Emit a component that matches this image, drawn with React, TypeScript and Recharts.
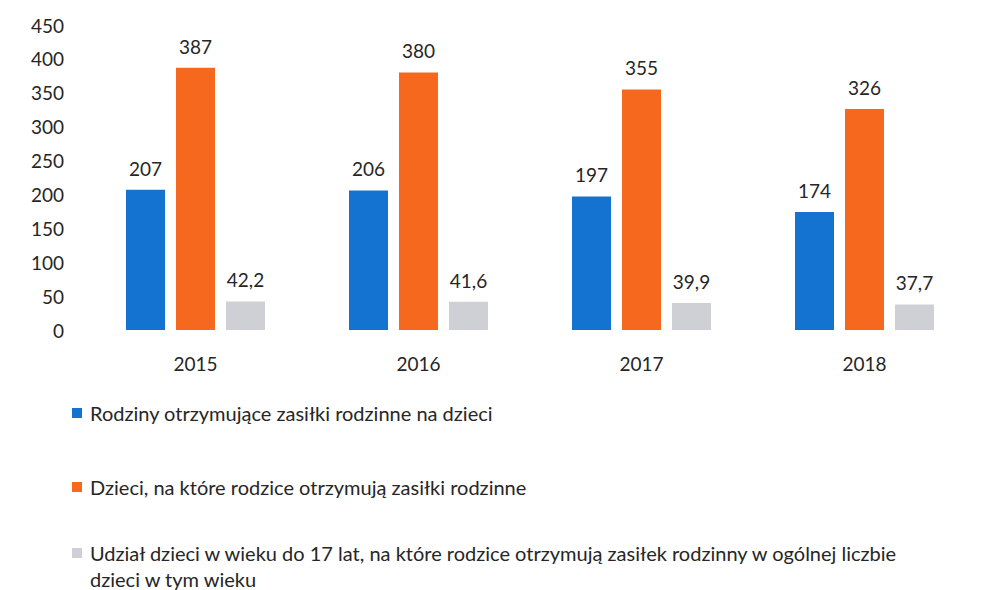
import { BarChart, Bar, XAxis, YAxis, LabelList } from "recharts";

const years = ["2015", "2016", "2017", "2018"];
const families = [207, 206, 197, 174];
const children = [387, 380, 355, 326];
const sharePct = [42.2, 41.6, 39.9, 37.7];
const yTicks = [0, 50, 100, 150, 200, 250, 300, 350, 400, 450];

const seriesNames = [
  "Rodziny otrzymujące zasiłki rodzinne na dzieci",
  "Dzieci, na które rodzice otrzymują zasiłki rodzinne",
  "Udział dzieci w wieku do 17 lat, na które rodzice otrzymują zasiłek rodzinny w ogólnej liczbie dzieci w tym wieku",
];
const colors = ["#1473d0", "#f7681f", "#cfcfd6"];

const FONT = "Lato, 'Open Sans', sans-serif";

const data = years.map((y, i) => ({
  year: y,
  families: families[i],
  children: children[i],
  share: sharePct[i],
}));

const fmt = (v: any) => String(v).replace(".", ",");

function YTick(props: any) {
  const { x, y, payload } = props;
  return (
    <text x={x - 12} y={y} textAnchor="end" dominantBaseline="central" fontSize={19} fill="#262626" fontFamily={FONT}>
      {payload.value}
    </text>
  );
}

function XTick(props: any) {
  const { x, y, payload } = props;
  return (
    <text x={x} y={y + 25} textAnchor="middle" dominantBaseline="central" fontSize={19} fill="#262626" fontFamily={FONT}>
      {payload.value}
    </text>
  );
}

export default function App() {
  const keys = ["families", "children", "share"];
  return (
    <div style={{ position: "absolute", left: 0, top: 0, width: 1006, height: 590, background: "#fff", overflow: "hidden", fontFamily: FONT }}>
      <BarChart
        width={1006}
        height={380}
        data={data}
        margin={{ top: 25, right: 30, left: 0, bottom: 0 }}
        barSize={39}
        barGap={11}
      >
        <XAxis dataKey="year" axisLine={false} tickLine={false} height={50} tick={<XTick />} interval={0} />
        <YAxis domain={[0, 450]} ticks={yTicks} axisLine={false} tickLine={false} width={84} tick={<YTick />} interval={0} />
        {keys.map((k, i) => (
          <Bar key={k} dataKey={k} fill={colors[i]} isAnimationActive={false}>
            <LabelList dataKey={k} position="top" offset={14} formatter={fmt} fontSize={19} fill="#262626" fontFamily={FONT} />
          </Bar>
        ))}
      </BarChart>
      {seriesNames.map((name, i) => (
        <div
          key={name}
          style={{
            position: "absolute",
            left: 72,
            top: [400, 474, 540][i],
            display: "flex",
            alignItems: "flex-start",
            fontSize: 20,
            lineHeight: "26px",
            color: "#262626",
          }}
        >
          <span style={{ display: "inline-block", width: 10, height: 10, background: colors[i], marginTop: 8, marginRight: 8, flexShrink: 0 }} />
          <span style={{ maxWidth: 820 }}>{name}</span>
        </div>
      ))}
    </div>
  );
}
